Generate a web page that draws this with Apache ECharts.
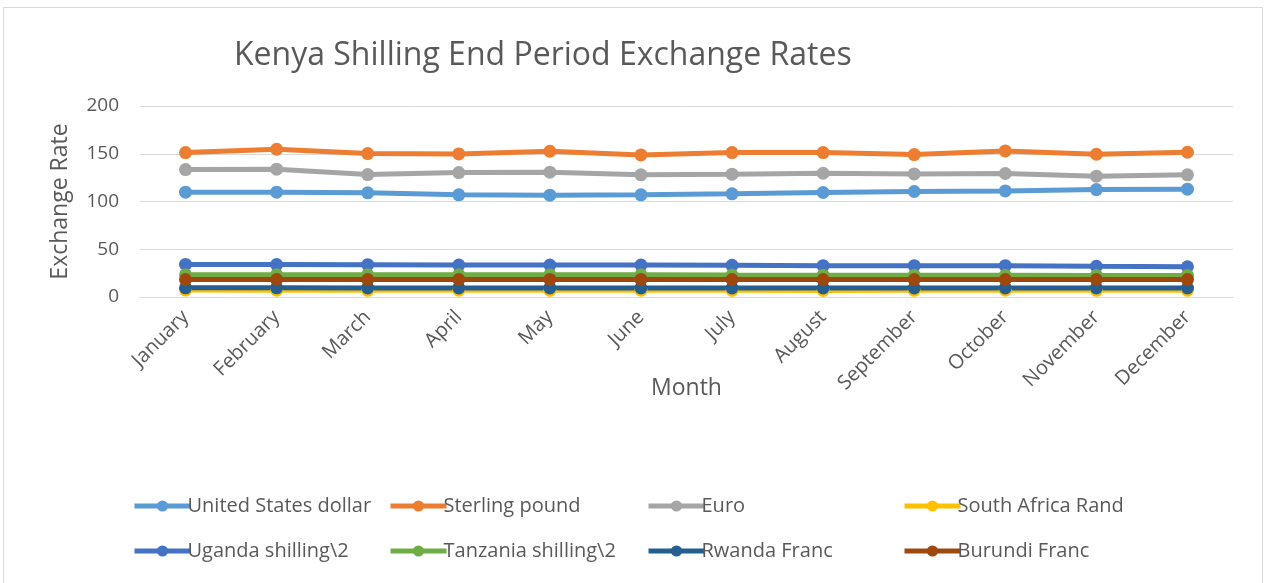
<!DOCTYPE html>
<html>
<head>
<meta charset="utf-8">
<script src="https://cdn.jsdelivr.net/npm/echarts@6/dist/echarts.min.js"></script>
<style>
  html, body { margin: 0; padding: 0; background: #fff; }
  #chart { width: 1269px; height: 583px; }
</style>
</head>
<body>
<div id="chart"></div>
<script>
const months = ['January', 'February', 'March', 'April', 'May', 'June',
    'July', 'August', 'September', 'October', 'November', 'December'];

const usDollar = [109.8, 109.8, 109.1, 107.0, 106.6, 107.0, 108.0, 109.4, 110.5, 111.1, 112.5, 112.9];
const sterlingPound = [151.2, 154.7, 150.2, 149.8, 152.6, 148.8, 151.2, 151.2, 149.1, 153.0, 149.5, 151.6];
const euro = [133.4, 133.8, 128.2, 130.3, 130.7, 127.9, 128.6, 129.6, 128.9, 129.3, 126.5, 127.9];
const saRand = [7.2, 7.1, 7.0, 7.1, 7.0, 7.1, 7.0, 6.9, 7.0, 7.1, 7.0, 7.0];
const ugandaHalf = [34.1, 34.0, 33.8, 33.4, 33.4, 33.4, 33.2, 32.8, 32.8, 32.8, 32.2, 31.7];
const tanzaniaHalf = [23.2, 23.2, 23.2, 23.3, 23.3, 23.2, 23.0, 22.9, 22.8, 22.7, 22.6, 22.6];
const rwandaFranc = [9.6, 9.6, 9.5, 9.5, 9.5, 9.5, 9.4, 9.4, 9.4, 9.5, 9.4, 9.4];
const burundiFranc = [18.3, 18.3, 18.2, 18.3, 18.4, 18.4, 18.3, 18.2, 18.2, 18.3, 18.3, 18.2];

const seriesNames = ['United States dollar', 'Sterling pound', 'Euro', 'South Africa Rand',
    'Uganda shilling\\2', 'Tanzania shilling\\2', 'Rwanda Franc', 'Burundi Franc'];
const seriesData = [usDollar, sterlingPound, euro, saRand, ugandaHalf, tanzaniaHalf, rwandaFranc, burundiFranc];
const seriesColors = ['#5B9BD5', '#ED7D31', '#A5A5A5', '#FFC000', '#4472C4', '#70AD47', '#255E91', '#9E480E'];

const font = 'Open Sans';
const textColor = '#595959';

const chart = echarts.init(document.getElementById('chart'), null, {renderer: 'canvas'});

// Excel-like legend: 4 fixed columns, 2 rows
const legendLefts = [127, 383, 641, 897];
const legends = legendLefts.map((left, i) => ({
    left: left,
    top: 491,
    orient: 'vertical',
    itemWidth: 56,
    itemHeight: 14,
    itemGap: 25,
    lineStyle: {width: 5},
    textStyle: {color: textColor, fontFamily: font, fontSize: 20, padding: [0, 0, 0, -8]},
    data: [seriesNames[i], seriesNames[i + 4]],
}));

const option = {
    animation: false,
    backgroundColor: '#fff',
    title: {
        text: 'Kenya Shilling End Period Exchange Rates',
        left: 229,
        top: 35,
        textStyle: {color: textColor, fontFamily: font, fontSize: 32, fontWeight: 'normal'},
    },
    graphic: [{
        type: 'rect',
        shape: {x: 3.5, y: 7.5, width: 1259, height: 600},
        style: {fill: 'none', stroke: '#d9d9d9', lineWidth: 1},
        silent: true,
    }],
    legend: legends,
    grid: {left: 140, right: 36, top: 106, bottom: 286},
    xAxis: {
        type: 'category',
        data: months,
        boundaryGap: true,
        name: 'Month',
        nameLocation: 'middle',
        nameGap: 80,
        nameMoveOverlap: false,
        nameTextStyle: {color: textColor, fontFamily: font, fontSize: 23},
        axisLine: {lineStyle: {color: '#d9d9d9', width: 1}},
        axisTick: {show: false},
        axisLabel: {rotate: 45, color: textColor, fontFamily: font, fontSize: 20, margin: 17, interval: 0},
    },
    yAxis: {
        type: 'value',
        min: 0,
        max: 200,
        interval: 50,
        name: 'Exchange Rate',
        nameLocation: 'middle',
        nameGap: 68,
        nameMoveOverlap: false,
        nameTextStyle: {color: textColor, fontFamily: font, fontSize: 23},
        axisLine: {show: false},
        axisTick: {show: false},
        axisLabel: {color: textColor, fontFamily: font, fontSize: 19, margin: 21},
        splitLine: {lineStyle: {color: '#d9d9d9', width: 1}},
    },
    series: seriesNames.map((name, i) => ({
        name: name,
        type: 'line',
        data: seriesData[i],
        symbol: 'circle',
        symbolSize: 13,
        color: seriesColors[i],
        lineStyle: {width: 5, color: seriesColors[i]},
        itemStyle: {color: seriesColors[i]},
    })),
};

chart.setOption(option);
</script>
</body>
</html>
